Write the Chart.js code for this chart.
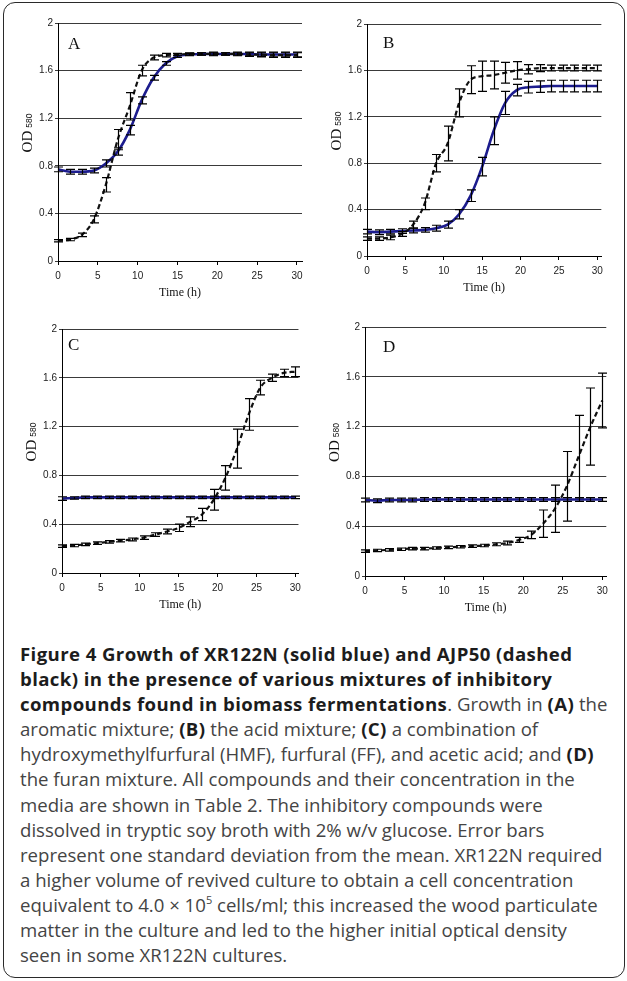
<!DOCTYPE html>
<html>
<head>
<meta charset="utf-8">
<script src="https://cdn.jsdelivr.net/npm/chart.js@4.4.1/dist/chart.umd.min.js"></script>
<style>
  html, body { margin: 0; padding: 0; background: #fff; }
  body { width: 627px; height: 981px; position: relative; overflow: hidden; }
  .frame { position: absolute; left: 3px; top: 2px; width: 622px; height: 976px; border: 1.5px solid #2a2a2a; border-radius: 12px; box-sizing: border-box; }
  canvas.panel { position: absolute; }
  .caption { position: absolute; left: 20px; top: 641px; font-family: "Open Sans", sans-serif; font-size: 18.6px; line-height: 25.1px; color: #444; white-space: nowrap; }
  .caption b { color: #1c1c1c; font-weight: 700; letter-spacing: 0.4px; }
  .caption sup { font-size: 11px; vertical-align: 8px; line-height: 0; }
</style>
</head>
<body>
<div class="frame"></div>
<canvas class="panel" id="panelA"></canvas>
<canvas class="panel" id="panelB"></canvas>
<canvas class="panel" id="panelC"></canvas>
<canvas class="panel" id="panelD"></canvas>
<div class="caption">
<b>Figure 4 Growth of XR122N (solid blue) and AJP50 (dashed</b><br>
<b>black) in the presence of various mixtures of inhibitory</b><br>
<b>compounds found in biomass fermentations</b>. Growth in <b>(A)</b> the<br>
aromatic mixture; <b>(B)</b> the acid mixture; <b>(C)</b> a combination of<br>
hydroxymethylfurfural (HMF), furfural (FF), and acetic acid; and <b>(D)</b><br>
the furan mixture. All compounds and their concentration in the<br>
media are shown in Table 2. The inhibitory compounds were<br>
dissolved in tryptic soy broth with 2% w/v glucose. Error bars<br>
represent one standard deviation from the mean. XR122N required<br>
a higher volume of revived culture to obtain a cell concentration<br>
equivalent to 4.0 × 10<sup>5</sup> cells/ml; this increased the wood particulate<br>
matter in the culture and led to the higher initial optical density<br>
seen in some XR122N cultures.
</div>
<script>
// sampling times (h), shared by every panel
const times = [0, 1.5, 3, 4.5, 6, 7.5, 9, 10.5, 12, 13.5, 15, 16.5, 18, 19.5, 21, 22.5, 24, 25.5, 27, 28.5, 30];
const xTicks = [0, 5, 10, 15, 20, 25, 30];
const yTicks = [0, 0.4, 0.8, 1.2, 1.6, 2];
const panelLetters = ['A', 'B', 'C', 'D'];

// (A) aromatic mixture
const aBlue     = [0.77, 0.75, 0.75, 0.76, 0.82, 0.92, 1.10, 1.35, 1.54, 1.66, 1.72, 1.735, 1.74, 1.74, 1.74, 1.74, 1.74, 1.735, 1.735, 1.735, 1.735];
const aBlueErr  = [0.02, 0.02, 0.02, 0.02, 0.03, 0.03, 0.04, 0.03, 0.02, 0.015, 0.01, 0.01, 0.01, 0.01, 0.01, 0.01, 0.015, 0.015, 0.02, 0.02, 0.02];
const aBlack    = [0.17, 0.18, 0.22, 0.35, 0.64, 1.02, 1.30, 1.60, 1.71, 1.73, 1.735, 1.74, 1.74, 1.74, 1.74, 1.74, 1.735, 1.735, 1.73, 1.73, 1.73];
const aBlackErr = [0.01, 0.01, 0.015, 0.03, 0.06, 0.085, 0.115, 0.045, 0.02, 0.015, 0.01, 0.01, 0.01, 0.015, 0.01, 0.015, 0.015, 0.02, 0.02, 0.02, 0.02];

// (B) acid mixture
const bBlue     = [0.21, 0.205, 0.21, 0.215, 0.22, 0.225, 0.24, 0.27, 0.36, 0.52, 0.77, 1.08, 1.32, 1.43, 1.455, 1.46, 1.465, 1.465, 1.465, 1.465, 1.465];
const bBlueErr  = [0.02, 0.02, 0.02, 0.02, 0.02, 0.02, 0.025, 0.03, 0.04, 0.05, 0.08, 0.12, 0.10, 0.05, 0.05, 0.05, 0.05, 0.05, 0.05, 0.05, 0.05];
const bBlack    = [0.15, 0.15, 0.16, 0.19, 0.27, 0.45, 0.80, 0.97, 1.32, 1.52, 1.55, 1.56, 1.58, 1.60, 1.61, 1.62, 1.62, 1.62, 1.62, 1.62, 1.62];
const bBlackErr = [0.015, 0.015, 0.02, 0.02, 0.03, 0.05, 0.075, 0.15, 0.12, 0.12, 0.13, 0.12, 0.09, 0.075, 0.04, 0.03, 0.025, 0.025, 0.025, 0.025, 0.025];

// (C) HMF + FF + acetic acid
const cBlue     = [0.61, 0.615, 0.62, 0.62, 0.62, 0.62, 0.62, 0.62, 0.62, 0.62, 0.62, 0.62, 0.62, 0.62, 0.62, 0.62, 0.62, 0.62, 0.62, 0.62, 0.62];
const cBlueErr  = [0.015, 0.01, 0.01, 0.01, 0.01, 0.01, 0.01, 0.01, 0.01, 0.01, 0.01, 0.01, 0.01, 0.01, 0.01, 0.01, 0.01, 0.01, 0.01, 0.01, 0.01];
const cBlack    = [0.22, 0.225, 0.235, 0.245, 0.255, 0.265, 0.275, 0.29, 0.315, 0.34, 0.37, 0.42, 0.48, 0.60, 0.78, 1.02, 1.30, 1.52, 1.60, 1.64, 1.65];
const cBlackErr = [0.01, 0.01, 0.01, 0.01, 0.01, 0.01, 0.012, 0.015, 0.015, 0.02, 0.03, 0.04, 0.05, 0.085, 0.10, 0.16, 0.13, 0.06, 0.03, 0.03, 0.04];

// (D) furan mixture
const dBlue     = [0.61, 0.605, 0.61, 0.61, 0.61, 0.615, 0.615, 0.615, 0.615, 0.615, 0.615, 0.615, 0.615, 0.615, 0.615, 0.615, 0.615, 0.615, 0.615, 0.615, 0.615];
const dBlueErr  = [0.015, 0.015, 0.015, 0.015, 0.015, 0.015, 0.015, 0.015, 0.015, 0.015, 0.015, 0.015, 0.015, 0.015, 0.015, 0.015, 0.015, 0.015, 0.015, 0.015, 0.015];
const dBlack    = [0.20, 0.205, 0.21, 0.215, 0.22, 0.22, 0.225, 0.23, 0.235, 0.24, 0.245, 0.255, 0.265, 0.29, 0.33, 0.42, 0.54, 0.72, 0.96, 1.20, 1.41];
const dBlackErr = [0.01, 0.01, 0.01, 0.01, 0.01, 0.01, 0.01, 0.01, 0.01, 0.01, 0.01, 0.012, 0.015, 0.02, 0.03, 0.11, 0.19, 0.28, 0.33, 0.31, 0.22];

const series = [
  {blue: aBlue, blueErr: aBlueErr, black: aBlack, blackErr: aBlackErr},
  {blue: bBlue, blueErr: bBlueErr, black: bBlack, blackErr: bBlackErr},
  {blue: cBlue, blueErr: cBlueErr, black: cBlack, blackErr: cBlackErr},
  {blue: dBlue, blueErr: dBlueErr, black: dBlack, blackErr: dBlackErr},
];

// plot-area boxes in page pixels, letter offsets inside the plot
const boxes = [
  {left: 58,  top: 23,  right: 302, bottom: 261, xMax: 30.63, lx: 10, ly: 22},
  {left: 367, top: 24,  right: 602, bottom: 256, xMax: 30.52, lx: 16, ly: 20},
  {left: 62,  top: 329, right: 300, bottom: 573, xMax: 30.4,  lx: 6,  ly: 17},
  {left: 365, top: 327, right: 607, bottom: 576, xMax: 30.5,  lx: 18, ly: 21},
];
const PAD_L = 55, PAD_T = 15, PAD_R = 6, PAD_B = 45;

const errorBars = {
  id: 'errorBars',
  afterDatasetsDraw(chart) {
    const {ctx, scales: {x, y}} = chart;
    ctx.save();
    ctx.strokeStyle = '#000';
    ctx.lineWidth = 1.2;
    chart.data.datasets.forEach(ds => {
      ds.data.forEach((p, i) => {
        const e = ds.err[i];
        const px = Math.round(x.getPixelForValue(p.x)) + 0.5;
        const y1 = y.getPixelForValue(p.y + e), y2 = y.getPixelForValue(p.y - e);
        ctx.beginPath();
        ctx.moveTo(px, y1); ctx.lineTo(px, y2);
        ctx.moveTo(px - 4.5, y1); ctx.lineTo(px + 4.5, y1);
        ctx.moveTo(px - 4.5, y2); ctx.lineTo(px + 4.5, y2);
        ctx.stroke();
      });
    });
    ctx.restore();
  }
};

const panelText = {
  id: 'panelText',
  afterDraw(chart, args, opts) {
    const {ctx, chartArea: a} = chart;
    ctx.save();
    ctx.fillStyle = '#111';
    ctx.textBaseline = 'middle';
    ctx.font = '17px "Liberation Serif"';
    ctx.fillText(opts.letter, a.left + opts.lx, a.top + opts.ly);
    ctx.font = '12px "Liberation Serif"';
    ctx.textAlign = 'center';
    ctx.fillText('Time (h)', (a.left + a.right) / 2, a.bottom + 32);
    // OD580, rotated
    ctx.translate(a.left - 26.5, (a.top + a.bottom) / 2 - 9);
    ctx.rotate(-Math.PI / 2);
    ctx.textAlign = 'left';
    ctx.textBaseline = 'alphabetic';
    ctx.font = '15px "Liberation Serif"';
    const w1 = ctx.measureText('OD').width;
    ctx.font = '8.5px "Liberation Sans"';
    const w2 = ctx.measureText('580').width;
    let sx = -(w1 + 3 + w2) / 2;
    ctx.font = '15px "Liberation Serif"';
    ctx.fillText('OD', sx, 0);
    ctx.font = '8.5px "Liberation Sans"';
    ctx.fillText('580', sx + w1 + 3, 0);
    ctx.restore();
  }
};

const tickFont = {family: 'Liberation Sans', size: 10};

panelLetters.forEach((letter, k) => {
  const b = boxes[k], s = series[k];
  const canvas = document.getElementById('panel' + letter);
  const w = b.right - b.left + PAD_L + PAD_R;
  const h = b.bottom - b.top + PAD_T + PAD_B;
  canvas.width = w; canvas.height = h;
  canvas.style.width = w + 'px'; canvas.style.height = h + 'px';
  canvas.style.left = (b.left - PAD_L) + 'px';
  canvas.style.top = (b.top - PAD_T) + 'px';

  new Chart(canvas, {
    type: 'line',
    data: {
      datasets: [
        {
          label: 'AJP50', data: times.map((t, i) => ({x: t, y: s.black[i]})), err: s.blackErr,
          borderColor: '#111', borderWidth: 2.2, borderDash: [5, 3], pointRadius: 0,
          cubicInterpolationMode: 'monotone', fill: false
        },
        {
          label: 'XR122N', data: times.map((t, i) => ({x: t, y: s.blue[i]})), err: s.blueErr,
          borderColor: '#1c1c8e', borderWidth: 2.6, pointRadius: 0,
          cubicInterpolationMode: 'monotone', fill: false
        }
      ]
    },
    options: {
      responsive: false, maintainAspectRatio: false, animation: false,
      layout: {padding: {top: PAD_T, right: PAD_R, left: 0, bottom: 0}},
      plugins: {
        legend: {display: false}, tooltip: {enabled: false},
        panelText: {letter, lx: b.lx, ly: b.ly}
      },
      scales: {
        x: {
          type: 'linear', min: 0, max: b.xMax,
          afterFit(sc) { sc.height = PAD_B; },
          afterBuildTicks(sc) { sc.ticks = xTicks.map(v => ({value: v})); },
          grid: {drawOnChartArea: false, drawTicks: true, tickLength: 4, color: '#000'},
          border: {color: '#000', width: 1},
          ticks: {color: '#222', font: tickFont, padding: 5, maxRotation: 0, autoSkip: false}
        },
        y: {
          type: 'linear', min: 0, max: 2,
          afterFit(sc) { sc.width = PAD_L; },
          afterBuildTicks(sc) { sc.ticks = yTicks.map(v => ({value: v})); },
          grid: {color: '#3a3a3a', lineWidth: 1, tickLength: 3},
          border: {color: '#000', width: 1},
          ticks: {color: '#222', font: tickFont, padding: 2, callback: v => String(+v.toFixed(1))}
        }
      }
    },
    plugins: [errorBars, panelText]
  });
});
</script>
</body>
</html>
